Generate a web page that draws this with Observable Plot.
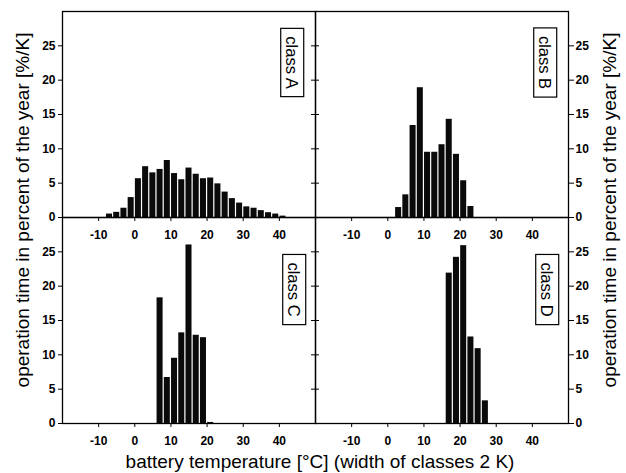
<!DOCTYPE html>
<html><head><meta charset="utf-8">
<script src="https://cdn.jsdelivr.net/npm/d3@7"></script>
<script src="https://cdn.jsdelivr.net/npm/@observablehq/plot@0.6"></script>
<style>
html,body{margin:0;padding:0;background:#fff;}
#chart{width:626px;height:473px;}
</style></head><body><div id="chart"></div>
<script>
// ---- data ----
const classNames = ["class A", "class B", "class C", "class D"];
const binStartA = [-8,-6,-4,-2,0,2,4,6,8,10,12,14,16,18,20,22,24,26,28,30,32,34,36,38,40];
const shareA = [0.5,0.75,1.35,2.9,5.65,7.4,6.5,7.0,8.3,6.4,5.5,7.2,6.3,5.65,5.75,4.9,3.7,2.75,2.1,1.55,1.35,1.0,0.7,0.5,0.2];
const binStartB = [2,4,6,8,10,12,14,16,18,20,22];
const shareB = [1.45,3.3,13.4,18.9,9.5,9.5,10.6,14.3,9.2,5.35,1.6];
const binStartC = [6,8,10,12,14,16,18,20];
const shareC = [18.3,6.7,9.5,13.2,26.0,12.85,12.5,0.15];
const binStartD = [16,18,20,22,24,26];
const shareD = [21.9,24.2,25.9,12.6,10.9,3.3];
const binWidth = 2;
const xTicks = [-10, 0, 10, 20, 30, 40];
const yTicks = [0, 5, 10, 15, 20, 25];
const xDomain = [-20, 50];
const yDomain = [0, 30];
const yTitle = "operation time in percent of the year [%/K]";
const xTitle = "battery temperature [°C] (width of classes 2 K)";

// ---- build tables ----
const panels = [
  {name: classNames[0], start: binStartA, share: shareA},
  {name: classNames[1], start: binStartB, share: shareB},
  {name: classNames[2], start: binStartC, share: shareC},
  {name: classNames[3], start: binStartD, share: shareD}
];
const bars = panels.flatMap((p, i) => p.start.map((s, j) => ({
  cls: p.name, col: i % 2, row: Math.floor(i / 2), x1: s, x2: s + binWidth, y: p.share[j]
})));
const labels = panels.map((p, i) => ({cls: p.name, col: i % 2, row: Math.floor(i / 2)}));

const font = "'Liberation Sans', Arial, Helvetica, sans-serif";
const labelOpts = {fx: "col", fy: "row", text: "cls", frameAnchor: "top-right", rotate: 90,
  textAnchor: "middle", lineAnchor: "middle", fontSize: 16.5, fill: "#000"};

const chart = Plot.plot({
  width: 626, height: 473,
  marginLeft: 62, marginRight: 58, marginTop: 10, marginBottom: 50,
  style: {fontFamily: font, background: "#fff", color: "#000", overflow: "visible"},
  x: {domain: xDomain},
  y: {domain: yDomain},
  fx: {domain: [0, 1], padding: 0, axis: null},
  fy: {domain: [0, 1], padding: 0, axis: null},
  marks: [
    Plot.rectY(bars, {x1: "x1", x2: "x2", y: "y", fx: "col", fy: "row", fill: "#0a0a0a", insetLeft: 0.6, insetRight: 0.6}),
    Plot.frame({stroke: "#000", strokeWidth: 1.3}),
    Plot.axisX({anchor: "bottom", facetAnchor: null, ticks: xTicks, tickSize: 4, tickPadding: 9, label: null,
      fontSize: 12, tickFormat: d => String(d)}),
    Plot.axisY({anchor: "left", facetAnchor: "left", ticks: yTicks, tickSize: 4, tickPadding: 3, label: null,
      fontSize: 12, tickFormat: d => String(d)}),
    Plot.axisY({anchor: "right", facetAnchor: "right", ticks: yTicks, tickSize: 5, tickPadding: 2, label: null,
      fontSize: 12, tickFormat: d => String(d)}),
    Plot.axisY({anchor: "left", facetAnchor: "right", ticks: yTicks, tickSize: 8, insetLeft: 4, label: null,
      tickFormat: () => ""}),
    Plot.text(labels.filter(d => d.row === 0), {...labelOpts, dx: -24, dy: 51}),
    Plot.text(labels.filter(d => d.row === 1), {...labelOpts, dx: -22, dy: 72})
  ]
});
document.getElementById("chart").appendChild(chart);

const svg = d3.select(chart);
// bold numeric tick labels like the scanned original
svg.selectAll("text").filter(function () {
  return /^-?\d+$/.test(this.textContent.trim());
}).attr("font-weight", "bold").style("font-weight", "bold");

// boxes around the class labels
svg.selectAll("text").filter(function () {
  return classNames.includes(this.textContent);
}).each(function () {
  const bb = this.getBBox();
  const padAlong = 8, padAcross = 2.5;
  const rect = document.createElementNS("http://www.w3.org/2000/svg", "rect");
  rect.setAttribute("x", bb.x - padAlong);
  rect.setAttribute("y", bb.y - padAcross);
  rect.setAttribute("width", bb.width + 2 * padAlong);
  rect.setAttribute("height", bb.height + 2 * padAcross);
  rect.setAttribute("fill", "#fff");
  rect.setAttribute("stroke", "#000");
  rect.setAttribute("stroke-width", 1.2);
  const t = this.getAttribute("transform");
  if (t) rect.setAttribute("transform", t);
  this.parentNode.insertBefore(rect, this);
});

// axis titles
svg.append("text").attr("transform", "translate(29,210) rotate(-90)")
  .attr("text-anchor", "middle").attr("font-size", 19).attr("fill", "#000").text(yTitle);
svg.append("text").attr("transform", "translate(616,210) rotate(-90)")
  .attr("text-anchor", "middle").attr("font-size", 19).attr("fill", "#000").text(yTitle);
svg.append("text").attr("x", 320).attr("y", 468)
  .attr("text-anchor", "middle").attr("font-size", 19).attr("fill", "#000").text(xTitle);
</script></body></html>
